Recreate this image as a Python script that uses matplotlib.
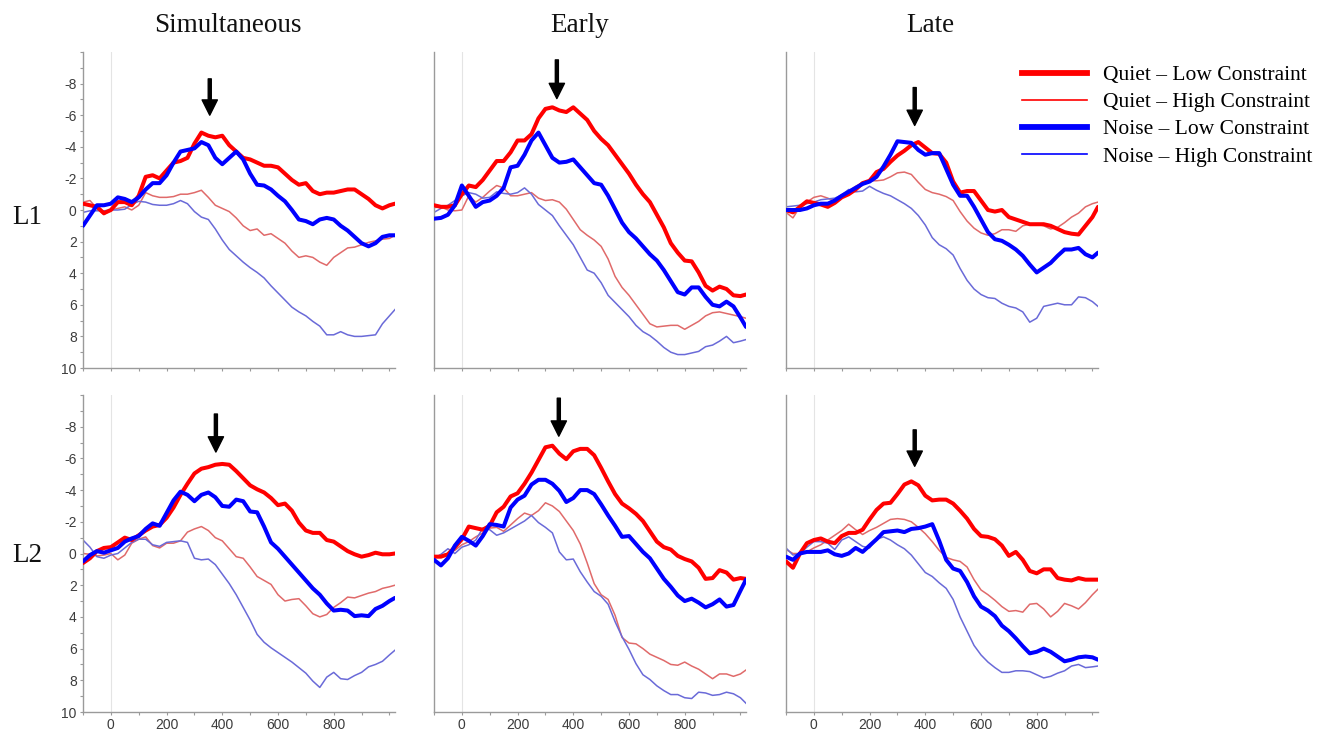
import numpy as np
import matplotlib
matplotlib.use("Agg")
import matplotlib.pyplot as plt
from matplotlib.lines import Line2D
from matplotlib.ticker import MultipleLocator

plt.rcParams["axes.unicode_minus"] = False

# ---------------- data ----------------
time_ms = [-100, -75, -50, -25, 0, 25, 50, 75, 100, 125, 150, 175, 200, 225, 250, 275,
           300, 325, 350, 375, 400, 425, 450, 475, 500, 525, 550, 575, 600, 625, 650,
           675, 700, 725, 750, 775, 800, 825, 850, 875, 900, 925, 950, 975, 1000, 1020]

col_titles = ["Simultaneous", "Early", "Late"]
row_labels = ["L1", "L2"]
series_labels = ["Quiet – Low Constraint", "Quiet – High Constraint",
                 "Noise – Low Constraint", "Noise – High Constraint"]

# Row L1
l1_sim_quiet_low = [-0.4, -0.3, -0.2, 0.2, 0.0, -0.5, -0.5, -0.3, -0.9, -2.1, -2.2, -2.0, -2.5, -3.0, -3.1, -3.3, -4.2, -4.9, -4.7, -4.6, -4.7, -4.1, -3.7, -3.3, -3.2, -3.0, -2.8, -2.8, -2.7, -2.3, -1.9, -1.6, -1.7, -1.2, -1.0, -1.1, -1.1, -1.2, -1.3, -1.3, -1.0, -0.7, -0.3, -0.1, -0.3, -0.4]
l1_sim_quiet_high = [-0.5, -0.6, -0.1, 0.3, 0.0, -0.1, -0.2, 0.0, -0.3, -1.1, -0.9, -0.8, -0.8, -0.85, -1.0, -1.0, -1.1, -1.25, -0.8, -0.3, -0.1, 0.1, 0.5, 1.0, 1.3, 1.2, 1.6, 1.5, 1.8, 2.1, 2.6, 3.0, 2.9, 3.0, 3.3, 3.5, 3.0, 2.7, 2.4, 2.35, 2.2, 2.05, 1.95, 1.85, 1.8, 1.6]
l1_sim_noise_low = [1.0, 0.35, -0.3, -0.3, -0.4, -0.8, -0.7, -0.5, -0.8, -1.3, -1.7, -1.7, -2.2, -3.0, -3.7, -3.8, -3.9, -4.3, -4.1, -3.3, -2.9, -3.3, -3.7, -3.2, -2.3, -1.6, -1.55, -1.3, -0.9, -0.55, 0.0, 0.6, 0.7, 0.9, 0.6, 0.5, 0.6, 1.0, 1.3, 1.7, 2.1, 2.3, 2.1, 1.7, 1.6, 1.6]
l1_sim_noise_high = [0.15, 0.05, 0.05, 0.05, 0.0, 0.0, -0.05, -0.35, -0.55, -0.5, -0.35, -0.3, -0.3, -0.4, -0.6, -0.4, 0.1, 0.45, 0.6, 1.2, 1.9, 2.5, 2.9, 3.3, 3.65, 3.95, 4.3, 4.8, 5.25, 5.7, 6.15, 6.45, 6.7, 7.05, 7.35, 7.9, 7.9, 7.7, 7.9, 8.0, 8.0, 7.95, 7.9, 7.2, 6.7, 6.3]

l1_early_quiet_low = [-0.3, -0.2, -0.2, -0.3, -1.0, -1.55, -1.45, -1.9, -2.5, -3.1, -3.1, -3.65, -4.4, -4.4, -4.8, -5.8, -6.4, -6.5, -6.3, -6.2, -6.5, -6.1, -5.7, -5.0, -4.5, -4.1, -3.5, -2.9, -2.3, -1.6, -1.0, -0.5, 0.3, 1.1, 2.1, 2.7, 3.2, 3.25, 3.95, 4.8, 5.1, 4.85, 5.0, 5.4, 5.45, 5.35]
l1_early_quiet_high = [-0.15, -0.2, 0.0, 0.05, 0.0, -0.9, -0.5, -0.8, -1.2, -1.55, -1.4, -0.9, -0.9, -1.0, -1.1, -0.75, -0.6, -0.65, -0.5, -0.05, 0.6, 1.25, 1.6, 1.9, 2.3, 3.1, 4.2, 4.9, 5.4, 6.0, 6.6, 7.2, 7.4, 7.35, 7.3, 7.3, 7.55, 7.3, 7.05, 6.7, 6.5, 6.45, 6.55, 6.65, 6.75, 6.85]
l1_early_noise_low = [0.55, 0.5, 0.3, -0.3, -1.55, -0.9, -0.2, -0.5, -0.6, -0.9, -1.4, -2.7, -2.8, -3.5, -4.4, -4.9, -4.1, -3.3, -3.0, -3.05, -3.2, -2.7, -2.2, -1.7, -1.6, -0.9, -0.05, 0.8, 1.4, 1.8, 2.3, 2.8, 3.2, 3.8, 4.5, 5.2, 5.35, 4.9, 4.9, 5.5, 6.0, 6.1, 5.8, 6.1, 6.8, 7.4]
l1_early_noise_high = [0.15, -0.1, -0.3, -0.6, -0.9, -1.1, -1.0, -0.75, -0.8, -1.15, -1.05, -1.0, -1.1, -1.4, -1.0, -0.35, 0.0, 0.35, 1.0, 1.6, 2.2, 3.0, 3.8, 4.0, 4.6, 5.4, 5.85, 6.3, 6.75, 7.3, 7.7, 7.95, 8.3, 8.7, 9.0, 9.15, 9.15, 9.05, 8.95, 8.65, 8.55, 8.3, 8.0, 8.4, 8.3, 8.2]

l1_late_quiet_low = [0.0, 0.15, -0.2, -0.55, -0.45, -0.35, -0.2, -0.45, -0.8, -1.0, -1.3, -1.7, -1.85, -2.4, -2.6, -3.05, -3.45, -3.75, -4.1, -4.3, -3.95, -3.6, -3.55, -3.0, -1.8, -1.1, -1.2, -1.2, -0.6, 0.0, 0.1, 0.0, 0.45, 0.6, 0.75, 0.9, 0.9, 0.9, 1.0, 1.2, 1.4, 1.5, 1.55, 1.0, 0.45, -0.2]
l1_late_quiet_high = [0.15, 0.5, -0.2, -0.5, -0.8, -0.9, -0.75, -0.55, -0.85, -1.2, -1.5, -1.75, -1.85, -1.85, -1.9, -2.1, -2.35, -2.4, -2.25, -1.75, -1.3, -1.1, -1.0, -0.85, -0.6, 0.1, 0.7, 1.15, 1.45, 1.6, 1.5, 1.25, 1.25, 1.35, 1.0, 0.9, 0.9, 1.0, 1.2, 1.1, 0.8, 0.45, 0.2, -0.2, -0.4, -0.5]
l1_late_noise_low = [0.0, 0.0, 0.0, -0.1, -0.3, -0.4, -0.4, -0.6, -0.9, -1.15, -1.4, -1.65, -1.8, -2.1, -2.75, -3.5, -4.35, -4.3, -4.25, -3.8, -3.5, -3.6, -3.6, -2.6, -1.6, -0.9, -0.9, -0.2, 0.6, 1.4, 1.85, 1.95, 2.2, 2.5, 2.9, 3.45, 3.95, 3.65, 3.35, 2.9, 2.5, 2.5, 2.4, 2.8, 3.0, 2.7]
l1_late_noise_high = [-0.2, -0.25, -0.3, -0.4, -0.5, -0.65, -0.7, -0.75, -0.95, -1.3, -1.15, -1.2, -1.5, -1.25, -1.05, -0.9, -0.65, -0.4, -0.1, 0.35, 0.95, 1.75, 2.2, 2.45, 2.85, 3.7, 4.45, 5.0, 5.35, 5.55, 5.6, 5.9, 6.1, 6.2, 6.45, 7.1, 6.85, 6.1, 6.0, 5.9, 6.0, 6.0, 5.5, 5.55, 5.8, 6.1]

# Row L2
l2_sim_quiet_low = [0.6, 0.3, -0.15, -0.35, -0.4, -0.7, -1.0, -0.85, -1.15, -1.45, -1.7, -1.8, -2.25, -2.9, -3.7, -4.4, -5.05, -5.35, -5.45, -5.6, -5.65, -5.6, -5.2, -4.75, -4.3, -4.05, -3.85, -3.5, -3.05, -3.15, -2.7, -1.95, -1.45, -1.3, -1.3, -0.85, -0.75, -0.45, -0.15, 0.05, 0.2, 0.1, -0.05, 0.05, 0.05, 0.0]
l2_sim_quiet_high = [0.0, 0.05, 0.15, 0.1, 0.0, 0.4, 0.1, -0.65, -0.9, -1.05, -0.5, -0.35, -0.65, -0.65, -0.8, -1.35, -1.55, -1.7, -1.45, -1.0, -0.8, -0.3, 0.2, 0.3, 0.85, 1.45, 1.7, 1.95, 2.6, 3.0, 2.9, 2.85, 3.3, 3.8, 4.0, 3.85, 3.4, 3.1, 2.75, 2.8, 2.65, 2.5, 2.4, 2.2, 2.1, 2.0]
l2_sim_noise_low = [0.5, 0.1, -0.15, -0.05, -0.2, -0.35, -0.75, -0.95, -1.1, -1.55, -1.9, -1.75, -2.55, -3.35, -3.9, -3.7, -3.3, -3.7, -3.85, -3.55, -3.0, -2.95, -3.4, -3.3, -2.65, -2.6, -1.7, -0.7, -0.3, 0.2, 0.7, 1.2, 1.7, 2.2, 2.6, 3.15, 3.6, 3.55, 3.6, 3.95, 3.9, 3.95, 3.5, 3.3, 3.0, 2.8]
l2_sim_noise_high = [-0.85, -0.4, 0.2, 0.3, 0.1, 0.0, -0.35, -0.7, -0.9, -0.9, -0.55, -0.45, -0.7, -0.75, -0.8, -0.7, 0.3, 0.4, 0.35, 0.7, 1.3, 1.9, 2.6, 3.4, 4.2, 5.1, 5.6, 5.95, 6.25, 6.55, 6.85, 7.2, 7.55, 8.05, 8.45, 7.8, 7.5, 7.9, 7.95, 7.7, 7.5, 7.15, 7.0, 6.8, 6.4, 6.1]

l2_early_quiet_low = [0.2, 0.2, 0.05, -0.4, -0.9, -1.7, -1.6, -1.5, -1.75, -2.6, -2.95, -3.6, -3.8, -4.4, -5.1, -5.9, -6.7, -6.8, -6.3, -5.95, -6.45, -6.6, -6.6, -6.2, -5.4, -4.55, -3.75, -3.15, -2.85, -2.5, -2.05, -1.4, -0.75, -0.4, -0.25, 0.15, 0.35, 0.5, 0.9, 1.6, 1.55, 1.05, 1.2, 1.65, 1.55, 1.6]
l2_early_quiet_high = [0.3, 0.1, 0.0, -0.2, -0.55, -0.75, -1.05, -1.3, -1.6, -1.65, -1.4, -1.8, -2.2, -2.55, -2.4, -2.7, -3.2, -3.0, -2.65, -2.05, -1.45, -0.6, 0.6, 1.9, 2.6, 2.9, 3.9, 5.3, 5.65, 5.7, 6.0, 6.35, 6.55, 6.75, 7.0, 7.05, 6.85, 7.1, 7.3, 7.6, 7.9, 7.6, 7.6, 7.75, 7.6, 7.35]
l2_early_noise_low = [0.4, 0.75, 0.3, -0.5, -1.05, -0.8, -0.5, -1.1, -1.85, -1.8, -1.7, -2.9, -3.4, -3.65, -4.35, -4.65, -4.65, -4.4, -3.95, -3.25, -3.5, -4.0, -4.0, -3.75, -3.1, -2.4, -1.75, -1.05, -1.1, -0.6, -0.1, 0.3, 0.95, 1.6, 2.1, 2.65, 3.0, 2.85, 3.1, 3.4, 3.2, 2.9, 3.35, 3.25, 2.35, 1.65]
l2_early_noise_high = [0.3, 0.05, -0.3, 0.0, -0.4, -0.55, -0.85, -1.6, -1.5, -1.15, -1.3, -1.55, -1.8, -2.05, -2.4, -1.95, -1.65, -1.3, -0.1, 0.4, 0.35, 1.15, 1.8, 2.4, 2.7, 3.2, 4.3, 5.25, 6.05, 6.95, 7.65, 7.95, 8.35, 8.65, 8.9, 8.9, 9.1, 9.15, 8.75, 8.8, 8.95, 8.9, 8.75, 8.85, 9.1, 9.45]

l2_late_quiet_low = [0.5, 0.9, 0.0, -0.65, -0.85, -0.95, -0.75, -0.65, -1.1, -1.3, -1.3, -1.5, -2.15, -2.75, -3.15, -3.2, -3.75, -4.35, -4.55, -4.3, -3.65, -3.35, -3.4, -3.4, -3.15, -2.7, -2.2, -1.55, -1.1, -1.05, -0.9, -0.5, 0.15, -0.1, 0.4, 1.1, 1.25, 1.0, 1.0, 1.55, 1.65, 1.7, 1.55, 1.65, 1.65, 1.65]
l2_late_quiet_high = [-0.25, 0.0, 0.0, -0.1, -0.35, -0.55, -0.85, -1.15, -1.45, -1.85, -1.5, -1.2, -1.45, -1.65, -1.9, -2.15, -2.2, -2.15, -2.0, -1.65, -1.25, -0.75, -0.2, 0.25, 0.4, 0.5, 0.85, 1.65, 2.3, 2.6, 2.95, 3.35, 3.65, 3.6, 3.7, 3.2, 3.15, 3.5, 4.0, 3.65, 3.15, 3.3, 3.5, 3.1, 2.6, 2.25]
l2_late_noise_low = [0.2, 0.4, 0.0, -0.1, -0.1, -0.1, -0.2, 0.05, 0.15, 0.0, -0.35, -0.1, -0.5, -0.9, -1.35, -1.4, -1.45, -1.35, -1.55, -1.6, -1.7, -1.85, -0.8, 0.4, 0.95, 1.1, 1.8, 2.7, 3.35, 3.6, 3.95, 4.55, 4.9, 5.35, 5.85, 6.3, 6.2, 6.0, 6.2, 6.5, 6.8, 6.7, 6.55, 6.5, 6.55, 6.7]
l2_late_noise_high = [-0.35, 0.1, 0.0, -0.4, -0.75, -0.75, -0.65, -0.25, -0.85, -1.05, -0.75, -0.45, -0.35, -0.9, -1.05, -0.85, -0.55, -0.3, 0.1, 0.65, 1.2, 1.45, 1.85, 2.2, 2.9, 4.0, 4.9, 5.8, 6.4, 6.85, 7.2, 7.5, 7.5, 7.4, 7.4, 7.45, 7.65, 7.85, 7.75, 7.55, 7.4, 7.1, 7.0, 7.2, 7.15, 7.1]

# arrow annotations: (time of arrow, tail value, head value) per panel
arrow_time = [[355, 341, 362], [377, 348, 362]]
arrow_tail = [[-8.3, -9.5, -7.75], [-8.8, -9.8, -7.8]]
arrow_head = [[-6.0, -7.05, -5.35], [-6.4, -7.4, -5.5]]

panels = [
    [(l1_sim_quiet_low, l1_sim_quiet_high, l1_sim_noise_low, l1_sim_noise_high),
     (l1_early_quiet_low, l1_early_quiet_high, l1_early_noise_low, l1_early_noise_high),
     (l1_late_quiet_low, l1_late_quiet_high, l1_late_noise_low, l1_late_noise_high)],
    [(l2_sim_quiet_low, l2_sim_quiet_high, l2_sim_noise_low, l2_sim_noise_high),
     (l2_early_quiet_low, l2_early_quiet_high, l2_early_noise_low, l2_early_noise_high),
     (l2_late_quiet_low, l2_late_quiet_high, l2_late_noise_low, l2_late_noise_high)],
]

# ---------------- styling ----------------
RED, BLUE = "#ff0000", "#0000ff"
RED_THIN, BLUE_THIN = "#e06a6a", "#6a6ad8"
THICK, THIN = 2.9, 1.1
SERIF = "Liberation Serif"
SANS = "Liberation Sans"

W, H = 1327, 731
fig = plt.figure(figsize=(W / 100, H / 100), dpi=100)

col_left = [83, 434, 786]
ax_w = 312
row_top = [52, 395]
row_bot = [368, 712]

for r in range(2):
    for c in range(3):
        left = col_left[c] / W
        bottom = 1 - row_bot[r] / H
        height = (row_bot[r] - row_top[r]) / H
        ax = fig.add_axes([left, bottom, ax_w / W, height])
        ql, qh, nl, nh = panels[r][c]
        ax.axvline(0, color="#e4e4e4", lw=0.8, zorder=0)
        ax.plot(time_ms, qh, color=RED_THIN, lw=THIN, zorder=2)
        ax.plot(time_ms, nh, color=BLUE_THIN, lw=THIN, zorder=2)
        ax.plot(time_ms, ql, color=RED, lw=THICK, zorder=3, solid_capstyle="round")
        ax.plot(time_ms, nl, color=BLUE, lw=THICK, zorder=4, solid_capstyle="round")
        ax.annotate("", xy=(arrow_time[r][c], arrow_head[r][c]),
                    xytext=(arrow_time[r][c], arrow_tail[r][c]),
                    arrowprops=dict(facecolor="black", edgecolor="black",
                                    width=2.2, headwidth=11, headlength=11, shrink=0),
                    zorder=5)
        ax.set_xlim(-100, 1020)
        ax.set_ylim(10, -10)
        for s in ["top", "right"]:
            ax.spines[s].set_visible(False)
        for s in ["left", "bottom"]:
            ax.spines[s].set_color("#9a9a9a")
            ax.spines[s].set_linewidth(1.0)
        ax.set_xticks([0, 200, 400, 600, 800])
        ax.xaxis.set_minor_locator(MultipleLocator(100))
        ax.set_yticks([-8, -6, -4, -2, 0, 2, 4, 6, 8, 10])
        ax.yaxis.set_minor_locator(MultipleLocator(1))
        ax.tick_params(which="both", direction="out", length=2.5, width=0.8,
                       color="#9a9a9a", labelcolor="#3c3c3c", labelsize=10, pad=2)
        if r == 0:
            ax.tick_params(axis="x", labelbottom=False)
        if c > 0:
            ax.tick_params(axis="y", which="both", labelleft=False, length=0)
        for lab in ax.get_xticklabels() + ax.get_yticklabels():
            lab.set_fontfamily(SANS)

# column titles
title_x = [228, 580, 930]
for c in range(3):
    fig.text(title_x[c] / W, 1 - 26 / H, col_titles[c], family=SERIF,
             fontsize=19.5, ha="center", va="center", color="#111111")

# row labels
row_y = [218, 555]
for r in range(2):
    fig.text(27 / W, 1 - row_y[r] / H, row_labels[r], family=SERIF,
             fontsize=19.5, ha="center", va="center", color="#111111")

# legend
handles = [Line2D([], [], color=RED, lw=4.2),
           Line2D([], [], color=RED, lw=1.2),
           Line2D([], [], color=BLUE, lw=4.2),
           Line2D([], [], color=BLUE, lw=1.2)]
fig.legend(handles, series_labels, loc="upper left",
           bbox_to_anchor=(1022 / W, 1 - 65 / H), frameon=False,
           prop={"family": SERIF, "size": 15.5}, handlelength=3.0,
           handletextpad=0.75, labelspacing=0.33, borderpad=0, borderaxespad=0)

fig.savefig("out.png", dpi=100)
